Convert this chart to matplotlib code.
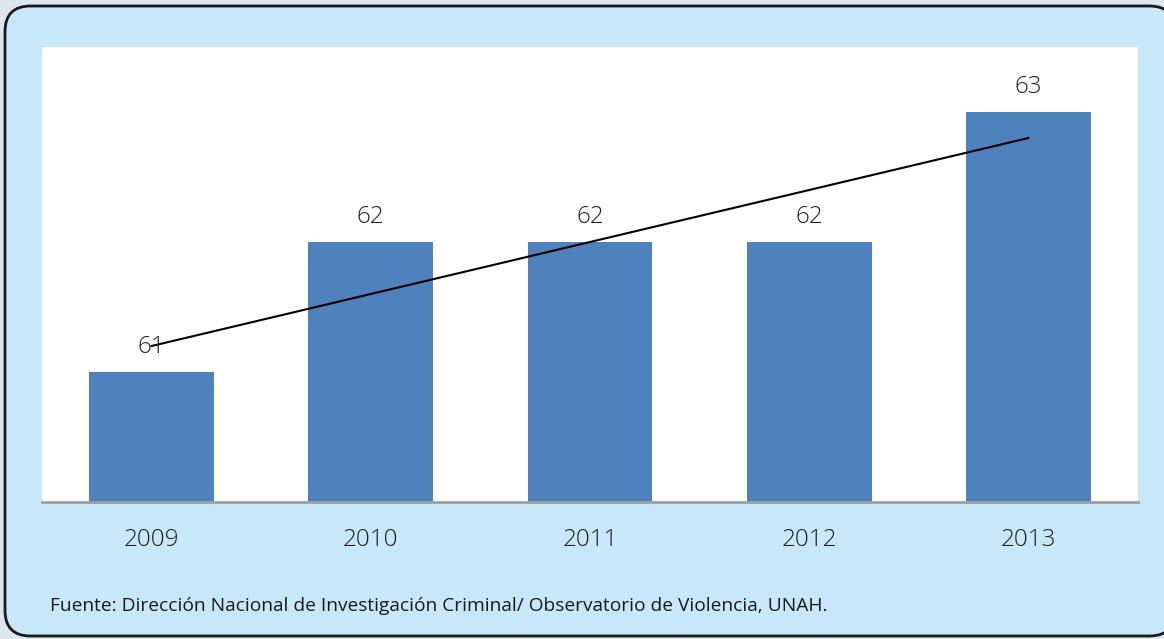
import numpy as np
import matplotlib.pyplot as plt
from matplotlib.patches import FancyBboxPatch

# Datos
years = ['2009', '2010', '2011', '2012', '2013']
values = [61, 62, 62, 62, 63]
source = "Fuente: Dirección Nacional de Investigación Criminal/ Observatorio de Violencia, UNAH."

plt.rcParams['font.family'] = ['Open Sans', 'DejaVu Sans']

fig = plt.figure(figsize=(11.64, 6.39), dpi=100)
fig.patch.set_facecolor('#dde5ef')

# Marco con esquinas redondeadas
frame = FancyBboxPatch((5 / 1164, 3 / 639), 1170 / 1164, 630 / 639,
                       boxstyle="round,pad=0,rounding_size=0.022",
                       transform=fig.transFigure, facecolor='#c6e8f8',
                       edgecolor='#1a1a1a', linewidth=2, mutation_aspect=1164 / 639,
                       zorder=-1)
fig.patches.append(frame)

ax = fig.add_axes([42 / 1164, 1 - 502 / 639, 1096 / 1164, 455 / 639])
ax.set_facecolor('white')

x = np.arange(len(years))
ax.bar(x, values, width=0.57, color='#4f81bd', zorder=2)

# Etiquetas de valor
for xi, v in zip(x, values):
    ax.text(xi, v + 0.19, str(v), ha='center', va='center', fontsize=17.5,
            color='#222222', fontweight='light', zorder=4)

# Línea de tendencia lineal
coef = np.polyfit(x, values, 1)
ax.plot(x[[0, -1]], np.polyval(coef, x[[0, -1]]), color='black', linewidth=1.5, zorder=3)

ax.set_xlim(-0.5, 4.5)
ax.set_ylim(60, 63.5)
ax.set_yticks([])
ax.set_xticks(x)
ax.set_xticklabels(years, fontsize=17.5, color='#222222', fontweight='light')
ax.tick_params(axis='x', length=0, pad=19)
for s in ['top', 'left', 'right']:
    ax.spines[s].set_visible(False)
ax.spines['bottom'].set_color('#a0a0a0')
ax.spines['bottom'].set_linewidth(2)
ax.spines['bottom'].set_zorder(5)

fig.text(50 / 1164, 1 - 606 / 639, source, fontsize=13.8, color='#1a1a1a',
         ha='left', va='center')

fig.savefig('out.png', dpi=100, facecolor=fig.get_facecolor())
